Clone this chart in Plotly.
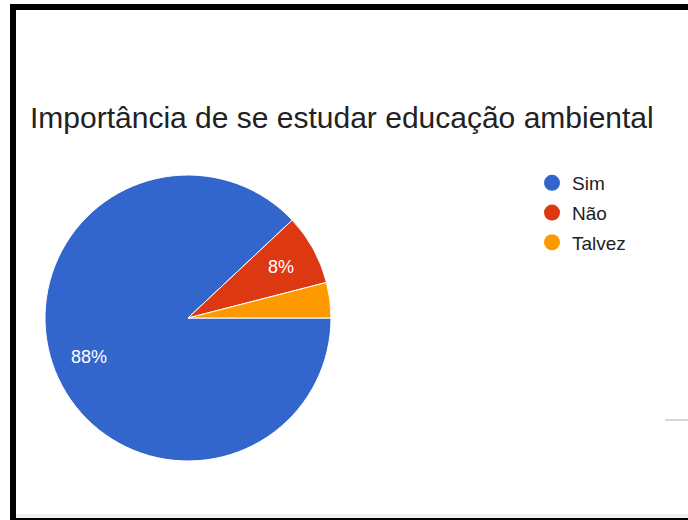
import math
import plotly.graph_objects as go

# Survey answers: "Is it important to study environmental education?"
answers = ["Sim", "Não", "Talvez"]
shares = [88, 8, 4]
slice_colors = ["#3366cc", "#dc3912", "#ff9900"]
label_visible = [True, True, False]

W, H = 688, 520
FONT = "Liberation Sans, Arial, sans-serif"

# pie placement in pixels (centre and radius) -> paper domain
cx, cy, r = 188, 318, 143

fig = go.Figure()
fig.add_trace(go.Pie(
    labels=answers,
    values=shares,
    sort=False,
    direction="clockwise",
    rotation=90,
    marker=dict(colors=slice_colors, line=dict(color="white", width=1)),
    textinfo="none",
    showlegend=False,
    hoverinfo="label+percent",
    domain=dict(x=[(cx - r) / W, (cx + r) / W], y=[1 - (cy + r) / H, 1 - (cy - r) / H]),
))

# percentage labels at 3/4 of the radius, on each slice's middle angle
total = sum(shares)
annotations = []
start = 0.0
for share, show in zip(shares, label_visible):
    frac = share / total
    mid = (start + frac / 2) * 2 * math.pi  # clockwise from 3 o'clock
    start += frac
    if not show:
        continue
    px = cx + 0.745 * r * math.cos(mid)
    py = cy + 0.745 * r * math.sin(mid)
    annotations.append(dict(
        x=px / W, y=1 - py / H, xref="paper", yref="paper",
        text=f"{round(frac * 100)}%", showarrow=False,
        xanchor="center", yanchor="middle",
        font=dict(family=FONT, size=18, color="white"),
    ))

# legend entries drawn with round markers
for i, (name, col) in enumerate(zip(answers, slice_colors)):
    fig.add_trace(go.Scatter(
        x=[None], y=[None], mode="markers", name=name, legendgroup=f"g{i}",
        marker=dict(color=col, size=17, symbol="circle"),
        hoverinfo="skip",
    ))

# frame around the chart card
frame = [
    dict(x0=10 / W, x1=1, y0=1 - 10 / H, y1=1 - 4 / H),
    dict(x0=10 / W, x1=16 / W, y0=0, y1=1 - 4 / H),
    dict(x0=10 / W, x1=1, y0=0, y1=2 / H),
]
shapes = [dict(type="rect", xref="paper", yref="paper", line=dict(width=0),
               fillcolor="black", layer="above", **f) for f in frame]
shapes.append(dict(type="rect", xref="paper", yref="paper", line=dict(width=0),
                   fillcolor="#f0f0f0", layer="below",
                   x0=16 / W, x1=1, y0=2 / H, y1=6 / H))
shapes.append(dict(type="line", xref="paper", yref="paper",
                   line=dict(color="#d5d5d5", width=2),
                   x0=665 / W, x1=1, y0=1 - 420 / H, y1=1 - 420 / H))

fig.update_layout(
    width=W, height=H,
    margin=dict(l=0, r=0, t=0, b=0),
    paper_bgcolor="white", plot_bgcolor="white",
    title=dict(text="Importância de se estudar educação ambiental",
               x=30 / W, xanchor="left", xref="paper",
               y=1 - 117 / H, yanchor="middle", yref="paper",
               font=dict(family=FONT, size=30, color="#222222")),
    xaxis=dict(visible=False), yaxis=dict(visible=False),
    legend=dict(x=532 / W, xanchor="left", y=1 - 164 / H, yanchor="top",
                font=dict(family=FONT, size=19, color="#222222"),
                bgcolor="rgba(0,0,0,0)", itemwidth=30, tracegroupgap=2),
    annotations=annotations,
    shapes=shapes,
)

fig.write_html("out.html")
